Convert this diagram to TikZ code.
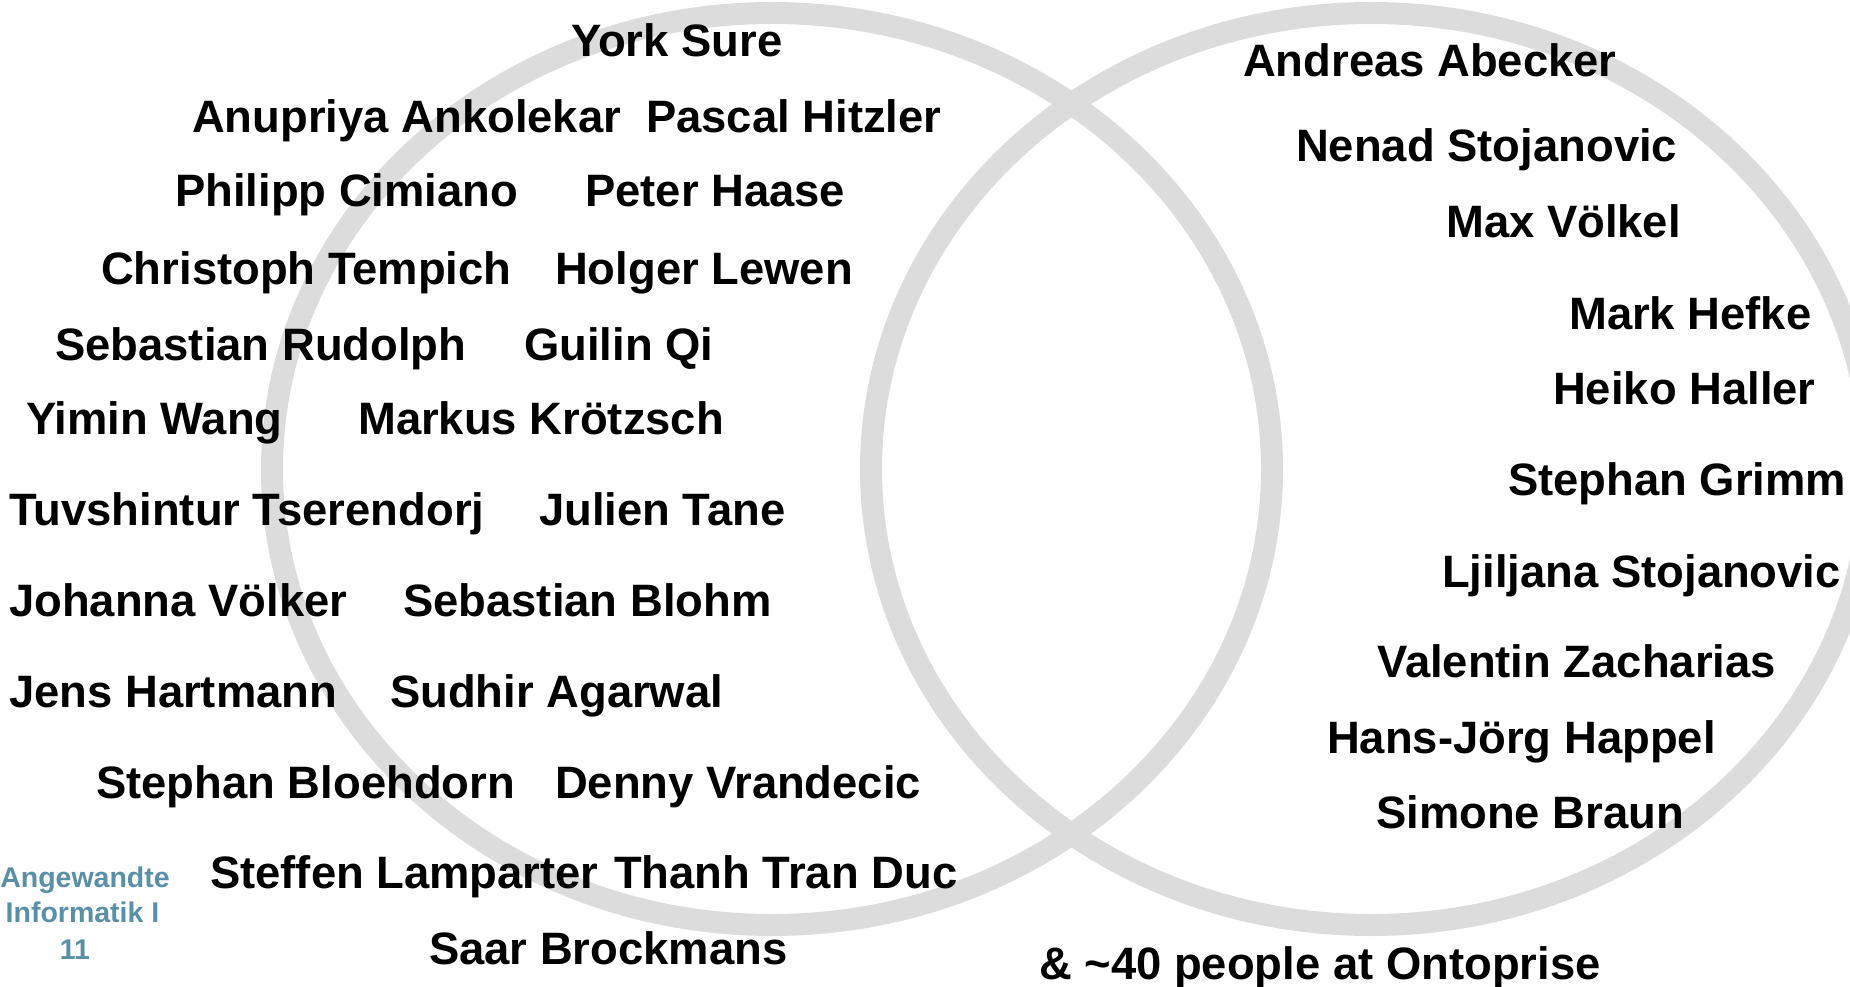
\documentclass[tikz,border=0pt]{standalone}
\usepackage{fontspec}
\setmainfont{Liberation Sans}
\definecolor{ringgrey}{HTML}{DCDCDC}
\definecolor{footblue}{HTML}{5A8FA8}
\begin{document}
\begin{tikzpicture}[x=1pt,y=-1pt,
  ring/.style={draw=ringgrey,line width=22pt},
  nm/.style={anchor=base west,inner sep=0pt,font=\bfseries\fontsize{45.4}{50}\selectfont},
  foot/.style={anchor=base,inner sep=0pt,text=footblue,font=\bfseries\fontsize{28.5}{34}\selectfont}]
\useasboundingbox (0,0) rectangle (1850,987);
% rings
\draw[ring] (772,469) ellipse [x radius=500pt, y radius=456pt];
\draw[ring] (1371,469) ellipse [x radius=500pt, y radius=456pt];
% left group
\node[nm] (ys) at (571,57) {York Sure};
\node[nm] (aa) at (192,133) {Anupriya Ankolekar};
\node[nm] (ph) at (646,133) {Pascal Hitzler};
\node[nm] (pc) at (175,207) {Philipp Cimiano};
\node[nm] (pha) at (585,207) {Peter Haase};
\node[nm] (ct) at (101,284) {Christoph Tempich};
\node[nm] (hl) at (555,284) {Holger Lewen};
\node[nm] (sr) at (55,360) {Sebastian Rudolph};
\node[nm] (gq) at (524,360) {Guilin Qi};
\node[nm] (yw) at (26,434) {Yimin Wang};
\node[nm] (mk) at (358,434) {Markus Krötzsch};
\node[nm] (tt) at (9,525) {Tuvshintur Tserendorj};
\node[nm] (jt) at (539,525) {Julien Tane};
\node[nm] (jv) at (9,616) {Johanna Völker};
\node[nm] (sb) at (403,616) {Sebastian Blohm};
\node[nm] (jh) at (9,707) {Jens Hartmann};
\node[nm] (sa) at (390,707) {Sudhir Agarwal};
\node[nm] (sbl) at (96,798) {Stephan Bloehdorn};
\node[nm] (dv) at (555,798) {Denny Vrandecic};
\node[nm] (sl) at (210,888) {Steffen Lamparter};
\node[nm] (ttd) at (614,888) {Thanh Tran Duc};
\node[nm] (sbr) at (429,964) {Saar Brockmans};
% right group
\node[nm] (ab) at (1243,77) {Andreas Abecker};
\node[nm] (ns) at (1296,162) {Nenad Stojanovic};
\node[nm] (mv) at (1446,238) {Max Völkel};
\node[nm] (mh) at (1569,329) {Mark Hefke};
\node[nm] (hh) at (1553,404) {Heiko Haller};
\node[nm] (sg) at (1508,495) {Stephan Grimm};
\node[nm] (ls) at (1442,587) {Ljiljana Stojanovic};
\node[nm] (vz) at (1377,677) {Valentin Zacharias};
\node[nm] (hjh) at (1327,753) {Hans-Jörg Happel};
\node[nm] (smb) at (1376,828) {Simone Braun};
\node[nm] (onto) at (1039,979) {\& \textasciitilde40 people at Ontoprise};
% footer
\node[foot] (f1) at (85,887) {Angewandte};
\node[foot] (f2) at (82.5,922) {Informatik I};
\node[foot] (f3) at (75,959) {11};
\end{tikzpicture}
\end{document}
